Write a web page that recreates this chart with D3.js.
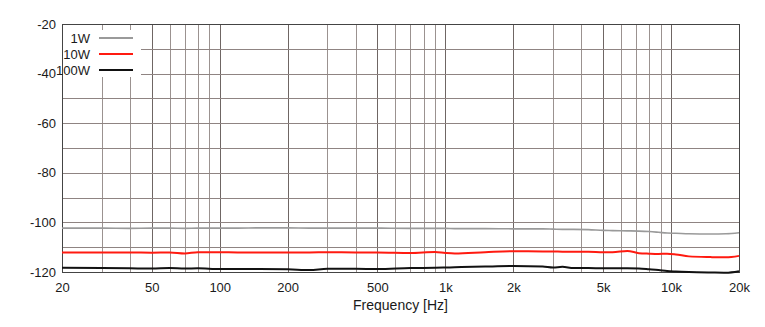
<!DOCTYPE html>
<html>
<head>
<meta charset="utf-8">
<script src="https://cdn.jsdelivr.net/npm/d3@7"></script>
<style>
  body { margin: 0; background: #fff; }
  text { font-family: "Liberation Sans", Arial, sans-serif; fill: #1a1a1a; }
</style>
</head>
<body>
<svg id="chart" width="765" height="327"></svg>
<script>
// data (dB vs Hz)
const freqs = [20, 30, 40, 50, 60, 70, 80, 100, 120, 150, 200, 250, 300, 400, 500, 700, 900, 1000, 1100, 1500,
               2000, 2700, 3000, 3300, 3700, 4300, 5000, 5500, 6400, 7200, 8000, 8800, 9600, 10500, 12000, 15000, 17500, 20000];
const w1 = [-102.3, -102.3, -102.4, -102.3, -102.3, -102.4, -102.3, -102.3, -102.3, -102.2, -102.2, -102.3, -102.3, -102.3, -102.3, -102.4, -102.4, -102.4, -102.5, -102.5,
            -102.6, -102.6, -102.7, -102.8, -102.8, -102.9, -103.2, -103.3, -103.4, -103.5, -103.7, -104.0, -104.3, -104.4, -104.6, -104.7, -104.6, -104.2];
const w10 = [-112.1, -112.1, -112.1, -112.2, -112.1, -112.5, -112.0, -112.0, -112.1, -112.1, -112.1, -112.1, -112.0, -112.1, -112.1, -112.3, -111.9, -112.3, -112.5, -112.0,
             -111.6, -111.7, -111.7, -111.8, -111.8, -111.8, -112.0, -112.0, -111.5, -112.4, -112.6, -112.7, -112.6, -112.9, -113.7, -114.0, -114.1, -113.5];
const w100 = [-118.3, -118.4, -118.5, -118.6, -118.4, -118.6, -118.5, -118.8, -118.8, -118.8, -118.9, -119.2, -118.7, -118.7, -118.8, -118.4, -118.3, -118.2, -118.1, -117.8,
              -117.6, -117.8, -118.2, -117.9, -118.4, -118.4, -118.5, -118.5, -118.5, -118.6, -118.9, -119.2, -119.6, -119.8, -120.0, -120.2, -120.3, -119.7];

const seriesNames = ['1W', '10W', '100W'];
const seriesColors = ['#9a9a9a', '#ff1a10', '#111'];
const xTickValues = [20, 50, 100, 200, 500, 1000, 2000, 5000, 10000, 20000];
const xTickLabels = ['20', '50', '100', '200', '500', '1k', '2k', '5k', '10k', '20k'];
const yTickValues = [-20, -40, -60, -80, -100, -120];

(function() {
  const margin = {top: 24, right: 26, bottom: 55, left: 62},
        width = 765 - margin.left - margin.right,
        height = 327 - margin.top - margin.bottom;

  const x = d3.scaleLog().domain([20, 20000]).range([0, width]);
  const y = d3.scaleLinear().domain([-120, -20]).range([height, 0]);

  const svg = d3.select('#chart');
  const g = svg.append('g').attr('transform', `translate(${margin.left},${margin.top})`);

  // grid - every decade step, every 10 dB
  const vGrid = [];
  [10, 100, 1000, 10000].forEach(dec => {
    for (let k = 1; k <= 9; k++) {
      const f = dec * k;
      if (f > 20 && f < 20000) vGrid.push(f);
    }
  });
  g.selectAll('.vgrid')
      .data(vGrid)
    .enter().append('line')
      .attr('x1', d => Math.round(x(d)) + 0.5)
      .attr('x2', d => Math.round(x(d)) + 0.5)
      .attr('y1', 0)
      .attr('y2', height)
      .attr('stroke', d => xTickValues.includes(d) ? '#6f6664' : '#9b9290')
      .attr('stroke-width', 1);

  g.selectAll('.hgrid')
      .data(d3.range(-110, -20, 10))
    .enter().append('line')
      .attr('x1', 0)
      .attr('x2', width)
      .attr('y1', d => Math.round(y(d)) + 0.5)
      .attr('y2', d => Math.round(y(d)) + 0.5)
      .attr('stroke', '#8f8482')
      .attr('stroke-width', 1);

  // frame
  g.append('rect')
    .attr('x', 0.5).attr('y', 0.5)
    .attr('width', width).attr('height', height)
    .attr('fill', 'none')
    .attr('stroke', '#444')
    .attr('stroke-width', 1);

  // axes (labels only, grid drawn above)
  const xAxis = d3.axisBottom(x)
    .tickValues(xTickValues)
    .tickFormat((d, i) => xTickLabels[i])
    .tickSize(0)
    .tickPadding(11);
  g.append('g')
    .attr('transform', `translate(0,${height})`)
    .call(xAxis)
    .call(a => a.select('.domain').remove())
    .selectAll('text')
      .style('font-size', '13px')
      .style('fill', '#1a1a1a');

  const yAxis = d3.axisLeft(y)
    .tickValues(yTickValues)
    .tickFormat(d => String(d)) // plain hyphen, like the original
    .tickSize(0)
    .tickPadding(6);
  g.append('g')
    .call(yAxis)
    .call(a => a.select('.domain').remove())
    .selectAll('text')
      .style('font-size', '13px')
      .style('fill', '#1a1a1a');

  svg.append('text')
    .attr('x', margin.left + width / 2)
    .attr('y', 310)
    .attr('text-anchor', 'middle')
    .style('font-size', '14px')
    .text('Frequency [Hz]');

  // curves
  const allSeries = [w1, w10, w100];
  const line = d3.line()
    .x((d, i) => x(freqs[i]))
    .y(d => y(d))
    .curve(d3.curveMonotoneX);

  g.selectAll('.curve')
      .data(allSeries)
    .enter().append('path')
      .attr('d', d => line(d))
      .attr('fill', 'none')
      .attr('stroke', (d, i) => seriesColors[i])
      .attr('stroke-width', (d, i) => i === 0 ? 1.6 : 2);

  // legend - white box over the grid
  const legend = g.append('g');
  legend.append('rect')
    .attr('x', 1).attr('y', 6)
    .attr('width', 78).attr('height', 47)
    .attr('fill', '#fff');

  const item = legend.selectAll('.item')
      .data(seriesNames)
    .enter().append('g')
      .attr('transform', (d, i) => `translate(0,${14 + i * 16})`);

  item.append('text')
    .attr('x', 28)
    .attr('y', 5)
    .attr('text-anchor', 'end')
    .style('font-size', '13px')
    .text(d => d);

  item.append('line')
    .attr('x1', 37).attr('x2', 71)
    .attr('y1', 0).attr('y2', 0)
    .attr('stroke', (d, i) => seriesColors[i])
    .attr('stroke-width', 2);
})();
</script>
</body>
</html>
